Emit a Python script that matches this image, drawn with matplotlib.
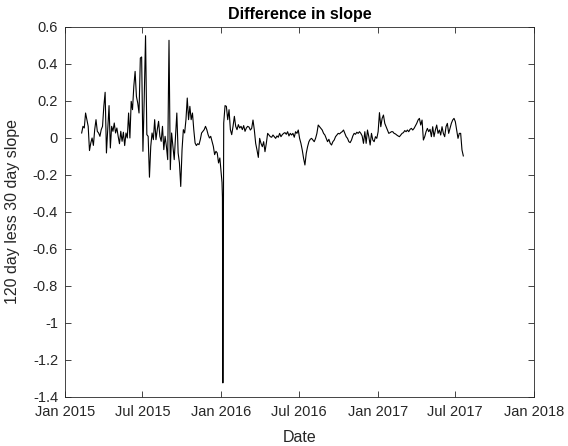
import numpy as np
import pandas as pd
import matplotlib
matplotlib.use("Agg")
import matplotlib.pyplot as plt
from matplotlib.ticker import FuncFormatter

plt.rcParams['font.family'] = ['Liberation Sans', 'DejaVu Sans']

# ---- data ----
pre_start, pre_end = "2015-02-09", "2016-01-01"
pre_values = [0.027, 0.063, 0.054, 0.135, 0.099, 0.063, -0.068, -0.027, 0.000, -0.040,
              0.045, 0.099, 0.036, 0.027, 0.009, 0.045, 0.063, 0.171, 0.247, -0.081,
              0.045, 0.175, -0.054, 0.063, 0.036, 0.081, 0.027, 0.054, 0.009, -0.031,
              0.036, -0.018, 0.031, -0.041, 0.027, 0.000, 0.135, 0.000, 0.198, 0.153,
              0.279, 0.360, 0.225, 0.189, 0.135, 0.432, 0.438, -0.072, 0.216, 0.553,
              0.018, 0.009, -0.212, -0.045, 0.027, -0.009, 0.099, -0.009, 0.045, 0.090,
              0.009, -0.018, 0.063, -0.063, 0.009, -0.045, -0.117, 0.528, -0.171, 0.027,
              -0.045, -0.117, 0.009, 0.135, -0.081, -0.135, -0.262, -0.063, 0.045, 0.027,
              0.099, 0.216, 0.099, 0.171, 0.099, 0.135, 0.045, -0.027, -0.041, -0.031,
              -0.036, -0.009, 0.027, 0.036, 0.045, 0.063, 0.045, 0.018, 0.000, 0.009,
              -0.018, -0.045, -0.090, -0.072, -0.081, -0.135, -0.108, -0.189]

spike_dates = ["2016-01-03", "2016-01-04", "2016-01-05"]
spike_values = [-0.24, -0.32, -1.324]

post_start, post_end = "2016-01-07", "2017-07-20"
post_values = [0.081, 0.175, 0.171, 0.099, 0.153, 0.045, 0.018, 0.063, 0.117, 0.063,
               0.045, 0.072, 0.054, 0.063, 0.045, 0.067, 0.036, 0.054, 0.063, 0.059,
               0.043, 0.052, 0.097, 0.043, -0.029, -0.065, -0.105, -0.002, -0.029, -0.047,
               -0.020, -0.074, -0.029, 0.025, 0.016, 0.007, 0.004, 0.016, 0.007, -0.002,
               0.011, 0.004, 0.025, 0.007, 0.018, 0.025, 0.029, 0.020, 0.034, 0.011,
               0.025, 0.016, 0.025, 0.004, 0.034, 0.025, 0.043, -0.002, -0.029, -0.065,
               -0.110, -0.146, -0.083, -0.047, -0.020, -0.007, -0.002, -0.011, -0.020, -0.002,
               0.025, 0.070, 0.061, 0.052, 0.043, 0.025, 0.016, -0.002, -0.020, -0.007,
               -0.029, -0.038, -0.020, -0.011, 0.007, 0.016, 0.025, 0.022, 0.029, 0.034,
               0.043, 0.025, 0.007, -0.002, -0.020,
               -0.025, -0.011, 0.011, 0.025, 0.020, 0.031, 0.025, 0.034, 0.025, 0.011,
               -0.029, 0.034, -0.029, 0.043, 0.007, -0.038, 0.025, -0.011, -0.020, 0.007,
               -0.002, 0.034, 0.137, 0.061, 0.106, 0.124, 0.079, 0.061, 0.043, 0.025,
               0.029, 0.034, 0.034, 0.025, 0.022, 0.016, 0.011, 0.007, 0.016, 0.025,
               0.029, 0.040, 0.034, 0.043, 0.034, 0.047, 0.052, 0.043, 0.052, 0.065,
               0.079, 0.097, 0.106, 0.070, 0.097, -0.011, 0.007, 0.034, 0.052, 0.034,
               0.047, 0.007, 0.061, 0.007, 0.043, 0.070, 0.025, 0.043, 0.016, 0.061,
               0.025, 0.007, 0.061, 0.079, 0.025, 0.052, 0.079, 0.097, 0.106, 0.088,
               0.043, -0.002, 0.025, 0.025, -0.065, -0.097]

xtick_labels = ["Jan 2015", "Jul 2015", "Jan 2016", "Jul 2016", "Jan 2017", "Jul 2017", "Jan 2018"]
xtick_dates = ["2015-01-01", "2015-07-01", "2016-01-01", "2016-07-01", "2017-01-01", "2017-07-01", "2018-01-01"]
ytick_values = [-1.4, -1.2, -1.0, -0.8, -0.6, -0.4, -0.2, 0.0, 0.2, 0.4, 0.6]

# ---- build series ----
pre_dates = pd.date_range(pre_start, pre_end, periods=len(pre_values))
post_dates = pd.date_range(post_start, post_end, periods=len(post_values))
dates = pre_dates.append(pd.DatetimeIndex(spike_dates)).append(post_dates)
values = np.array(pre_values + spike_values + post_values)

# ---- plot ----
fig = plt.figure(figsize=(5.68, 4.46), dpi=100)
ax = fig.add_axes([0.1144, 0.1099, 0.8256, 0.8296])
ax.plot(dates, values, color='black', lw=0.8)

ax.set_xlim(pd.Timestamp("2015-01-01"), pd.Timestamp("2018-01-01"))
ax.set_ylim(-1.4, 0.6)
ax.set_xticks(pd.to_datetime(xtick_dates))
ax.set_xticklabels(xtick_labels)
ax.set_yticks(ytick_values)
ax.yaxis.set_major_formatter(FuncFormatter(lambda v, p: ('%g' % round(v, 1)) if abs(v) > 1e-9 else '0'))

txt = (0.15, 0.15, 0.15)
for s in ax.spines.values():
    s.set_color(txt)
    s.set_linewidth(0.6)
ax.tick_params(direction='in', length=4, width=0.6, colors=txt, labelcolor=txt,
               top=True, right=True, labelsize=10.5)
ax.tick_params(axis='x', pad=6)
ax.tick_params(axis='y', pad=5)

ax.set_title("Difference in slope", fontsize=11.5, fontweight='bold', pad=6)
ax.set_xlabel("Date", fontsize=11.5, color=txt, labelpad=8)
ax.set_ylabel("120 day less 30 day slope", fontsize=11.5, color=txt, labelpad=9)

fig.savefig("out.png", dpi=100)
